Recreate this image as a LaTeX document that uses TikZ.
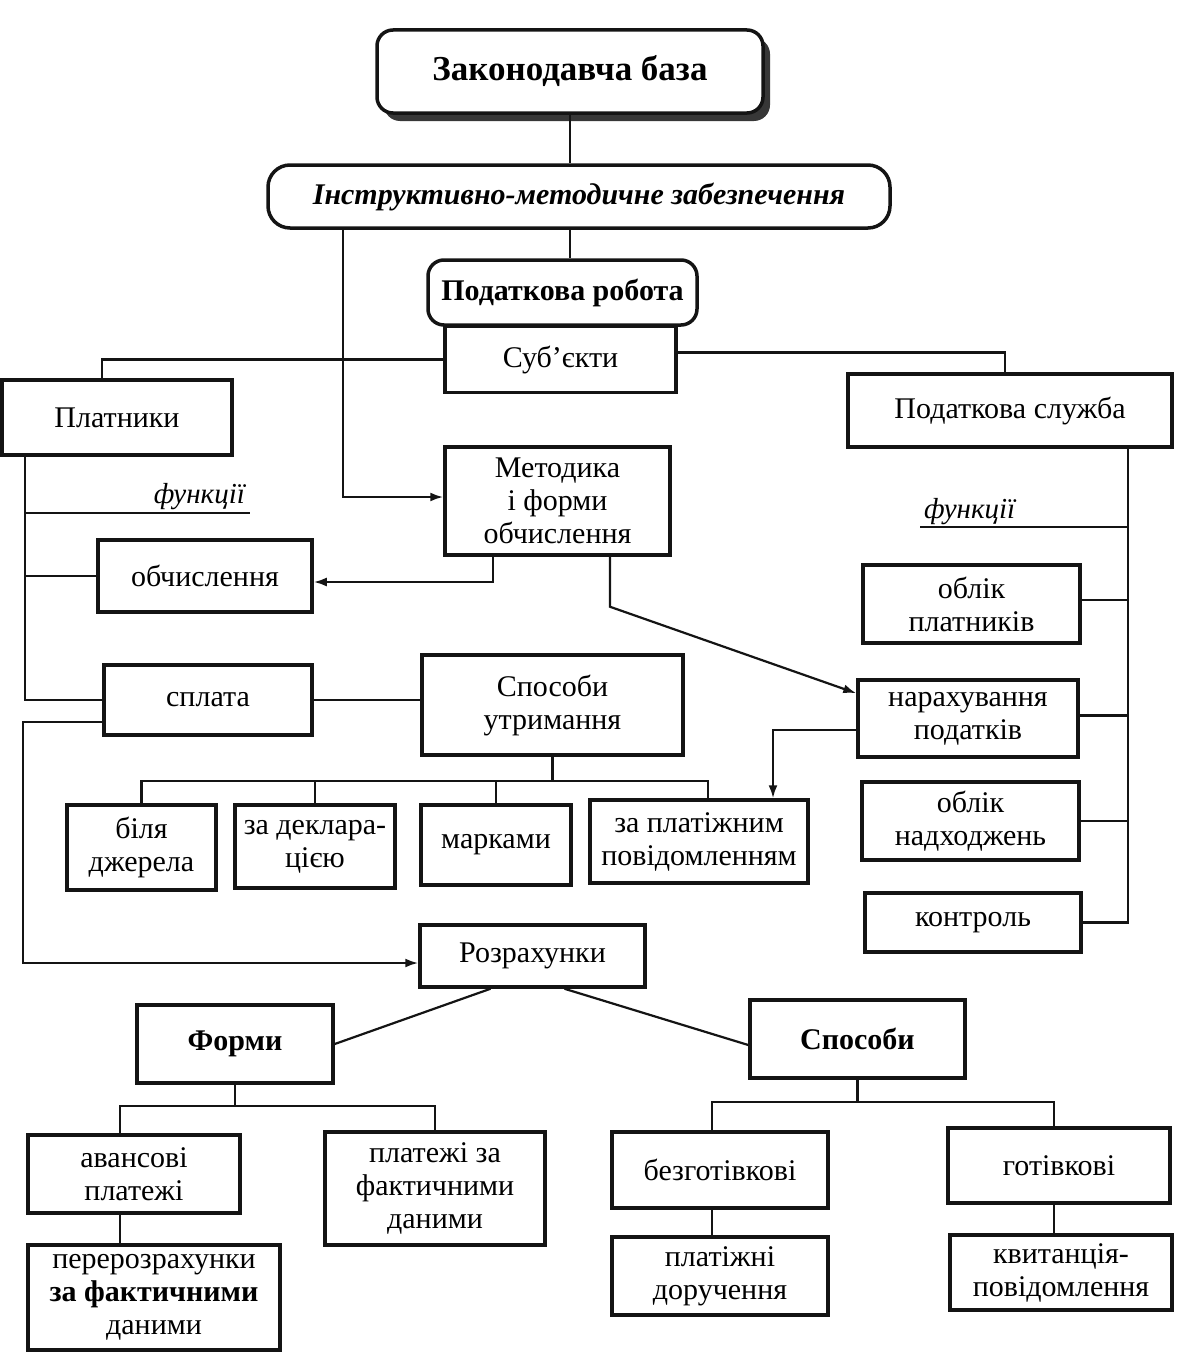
\documentclass[tikz,border=0pt]{standalone}
\usepackage{fontspec}
\setmainfont{Liberation Serif}
\usepackage{tikz}
\usetikzlibrary{arrows.meta, shadows}
\definecolor{inkblack}{RGB}{20, 20, 20}
\definecolor{shadowgray}{RGB}{55, 55, 55}

\tikzset{
    box/.style={draw=inkblack, line width=3.5pt, fill=white, inner sep=0pt, align=center,
        font=\fontsize{30}{33}\selectfont},
    rbox/.style={box, rounded corners=16pt},
    conn/.style={draw=inkblack, line width=2.2pt},
    arr/.style={conn, -{Latex[length=13pt,width=9pt]}},
    funlabel/.style={font=\fontsize{29}{32}\selectfont\itshape, inner sep=2pt}
}

\begin{document}
\begin{tikzpicture}[x=1pt, y=-1pt]
    \useasboundingbox (0,0) rectangle (1176,1354);

    % Top levels
    \node[rbox, minimum width=386pt, minimum height=83pt, font=\fontsize{35}{40}\selectfont\bfseries,
        drop shadow={shadow xshift=7pt, shadow yshift=-8pt, fill=shadowgray, opacity=1}]
        (zakon) at (570,71.5) {Законодавча база};
    \node[rbox, rounded corners=22pt, minimum width=622pt, minimum height=63pt,
        font=\fontsize{30}{33}\selectfont\bfseries\itshape] (instr) at (579,196.5) {Інструктивно-методичне забезпечення};
    \node[rbox, minimum width=269pt, minimum height=65pt, font=\fontsize{30}{33}\selectfont\bfseries]
        (robota) at (562.5,292.5) {Податкова робота};
    \node[box, minimum width=231pt, minimum height=66pt] (subj) at (560.5,359.5) {Суб’єкти};

    \draw[conn] (zakon.south) -- (zakon.south |- instr.north);
    \draw[conn] (zakon.south |- instr.south) -- (zakon.south |- robota.north);

    % Subjects
    \node[box, minimum width=230pt, minimum height=75pt] (plat) at (117,417.5) {Платники};
    \node[box, minimum width=324pt, minimum height=73pt] (sluzhba) at (1010,410.5) {Податкова служба};
    \node[box, minimum width=225pt, minimum height=108pt] (metod) at (557.5,501) {Методика\\і форми\\обчислення};

    \draw[conn] (subj.west) -| ([xshift=-15pt]plat.north);
    \draw[conn] ([yshift=7pt]subj.east) -| ([xshift=-5pt]sluzhba.north);
    \draw[arr] ([xshift=-236pt]instr.south) |- ([yshift=4pt]metod.west);

    % Payers' functions
    \node[box, minimum width=214pt, minimum height=72pt] (obch) at (205,576) {обчислення};
    \node[box, minimum width=208pt, minimum height=70pt] (splata) at (208,700) {сплата};
    \node[box, minimum width=261pt, minimum height=100pt] (sposut) at (552.5,705) {Способи\\утримання};

    \coordinate (pf) at ([xshift=25pt]plat.south west);
    \coordinate (fl) at (250,513);
    \draw[conn] (fl -| pf) -- (fl) node[funlabel, above left, xshift=-2pt] (funl) {функції};
    \draw[conn] (pf) |- (splata.west);
    \draw[conn] (pf |- obch.west) -- (obch.west);
    \draw[arr] ([xshift=-64.5pt]metod.south) |- ([yshift=-6pt]obch.east);
    \draw[conn] (splata.east) -- (splata.east -| sposut.west);

    % Ways of withholding
    \node[box, minimum width=149pt, minimum height=85pt] (bilia) at (141.5,847.5) {біля\\джерела};
    \node[box, minimum width=160pt, minimum height=83pt] (deklar) at (315,846.5) {за деклара-\\цією};
    \node[box, minimum width=150pt, minimum height=80pt] (markamy) at (496,845) {марками};
    \node[box, minimum width=218pt, minimum height=83pt] (platizh) at (699,841.5) {за платіжним\\повідомленням};

    \draw[conn] (sposut.south) -- ++(0,24) coordinate (ubus);
    \draw[conn] (bilia.north) |- (ubus) -| ([xshift=9pt]platizh.north);
    \draw[conn] (deklar.north) -- (deklar.north |- ubus);
    \draw[conn] (markamy.north) -- (markamy.north |- ubus);

    % Tax service functions
    \node[box, minimum width=217pt, minimum height=78pt] (oblplat) at (971.5,604) {облік\\платників};
    \node[box, minimum width=220pt, minimum height=77pt] (narah) at (968,718.5) {нарахування\\податків};
    \node[box, minimum width=217pt, minimum height=78pt] (oblnad) at (970.5,821) {облік\\надходжень};
    \node[box, minimum width=216pt, minimum height=59pt] (kontrol) at (973,922.5) {контроль};

    \coordinate (sv) at ([xshift=118pt]sluzhba.south);
    \coordinate (fr) at (920,527);
    \draw[conn] (sv) |- (kontrol.east);
    \draw[conn] (fr) -- (fr -| sv);
    \node[funlabel, above right, xshift=2pt] (funr) at (fr) {функції};
    \draw[conn] ([yshift=4pt]oblplat.east) -- ([yshift=4pt]oblplat.east -| sv);
    \draw[conn] ([yshift=3pt]narah.east) -- ([yshift=3pt]narah.east -| sv);
    \draw[conn] (oblnad.east) -- (oblnad.east -| sv);

    \draw[arr] ([xshift=52.5pt]metod.south) -- ++(0,50) -- ([yshift=-15pt]narah.north west);
    \draw[arr] ([yshift=-11.5pt]narah.west) -| ([xshift=74pt]platizh.north);

    % Settlements
    \node[box, minimum width=225pt, minimum height=62pt] (rozrah) at (532.5,956) {Розрахунки};
    \node[box, minimum width=196pt, minimum height=78pt, font=\fontsize{30}{33}\selectfont\bfseries] (formy) at (235,1044) {Форми};
    \node[box, minimum width=215pt, minimum height=78pt, font=\fontsize{30}{33}\selectfont\bfseries] (sposoby) at (857.5,1039) {Способи};

    \draw[arr] ([yshift=-22pt]splata.west) -- ++(-79,0) |- ([yshift=-7pt]rozrah.west);
    \draw[conn] ([xshift=-42pt]rozrah.south) -- (formy.east);
    \draw[conn] ([xshift=32pt]rozrah.south) -- ([yshift=-6pt]sposoby.west);

    % Forms
    \node[box, minimum width=212pt, minimum height=78pt] (avans) at (134,1174) {авансові\\платежі};
    \node[box, minimum width=220pt, minimum height=113pt] (platfakt) at (435,1188.5) {платежі за\\фактичними\\даними};
    \node[box, minimum width=252pt, minimum height=105pt] (pererozr) at (154,1297.5) {перерозрахунки\\\textbf{за фактичними}\\даними};

    \draw[conn] (formy.south) -- ++(0,21) coordinate (fbus);
    \draw[conn] ([xshift=-14pt]avans.north) |- (fbus) -| (platfakt.north);
    \draw[conn] ([xshift=-14pt]avans.south) -- ([xshift=-14pt]avans.south |- pererozr.north);

    % Ways
    \node[box, minimum width=216pt, minimum height=76pt] (bezgot) at (720,1170) {безготівкові};
    \node[box, minimum width=222pt, minimum height=75pt] (gotivk) at (1059,1165.5) {готівкові};
    \node[box, minimum width=216pt, minimum height=78pt] (doruch) at (720,1276) {платіжні\\доручення};
    \node[box, minimum width=222pt, minimum height=75pt] (kvyt) at (1061,1272.5) {квитанція-\\повідомлення};

    \draw[conn] (sposoby.south) -- ++(0,22) coordinate (sbus);
    \draw[conn] ([xshift=-8pt]bezgot.north) |- (sbus) -| ([xshift=-5pt]gotivk.north);
    \draw[conn] ([xshift=-8pt]bezgot.south) -- ([xshift=-8pt]bezgot.south |- doruch.north);
    \draw[conn] ([xshift=-5pt]gotivk.south) -- ([xshift=-5pt]gotivk.south |- kvyt.north);
\end{tikzpicture}
\end{document}
